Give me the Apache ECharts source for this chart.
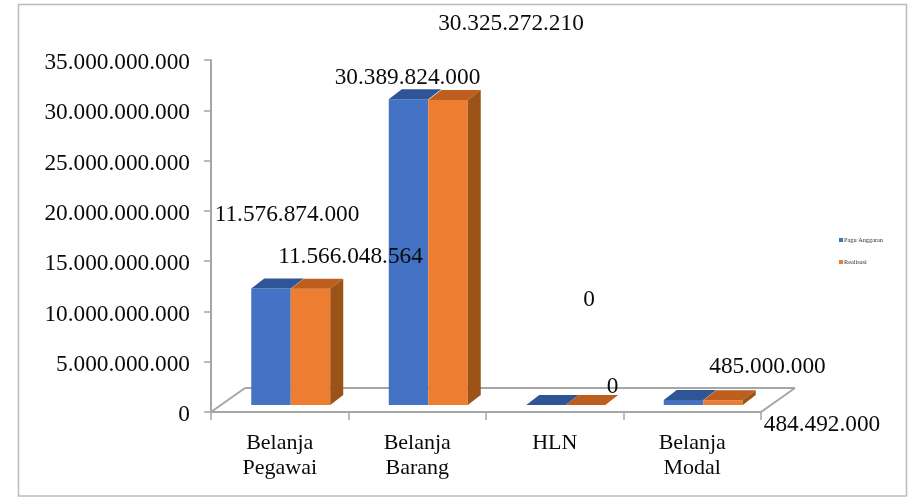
<!DOCTYPE html>
<html>
<head>
<meta charset="utf-8">
<style>html,body{margin:0;padding:0;background:#fff}#c{width:909px;height:497px}</style>
<script src="https://cdn.jsdelivr.net/npm/echarts@6/dist/echarts.min.js"></script>
</head>
<body>
<div id="c"></div>
<script>
const categories = ['Belanja\nPegawai', 'Belanja\nBarang', 'HLN', 'Belanja\nModal'];
const paguAnggaran = [11576874000, 30389824000, 0, 485000000];
const realisasi = [11566048564, 30325272210, 0, 484492000];
const yTicks = { min: 0, max: 35000000000, interval: 5000000000 };
// hand-placed label displacement from each bar's top centre [dx, dy]
const paguLabelShift = [[16, -74], [-1, -21], [43, -105], [84, -33]];
const realLabelShift = [[40, -32], [63, -76], [27, -18], [99, 25]];

const FONT = '"Liberation Serif", serif';
const DEPTH_X = 13, DEPTH_Y = 10, FLOOR_X = 34, FLOOR_Y = 24, BASE_LIFT = 7, SHIFT_X = 11, BAR_W = 39.5;
const fmt = v => String(v).replace(/\B(?=(\d{3})+$)/g, '.');
const poly = (points, fill) => ({ type: 'polygon', shape: { points }, style: { fill } });

function barRenderer(side, colors, shifts) {
  return (params, api) => {
    const i = api.value(0), v = api.value(1);
    const top = api.coord([i, v]), base = api.coord([i, 0]);
    const x0 = top[0] + SHIFT_X + (side < 0 ? -BAR_W : 0), x1 = x0 + BAR_W;
    const yt = top[1] - BASE_LIFT, yb = base[1] - BASE_LIFT;
    const children = [];
    if (yb - yt > 0) children.push(poly([[x0, yt], [x1, yt], [x1, yb], [x0, yb]], colors.front));
    children.push(poly([[x0, yt], [x1, yt], [x1 + DEPTH_X, yt - DEPTH_Y], [x0 + DEPTH_X, yt - DEPTH_Y]], colors.top));
    if (side > 0) children.push(poly([[x1, yt], [x1 + DEPTH_X, yt - DEPTH_Y], [x1 + DEPTH_X, yb - DEPTH_Y], [x1, yb]], colors.side));
    const s = shifts[i];
    children.push({
      type: 'text', z2: 50,
      style: { text: fmt(v), x: (x0 + x1) / 2 + s[0], y: yt + s[1], align: 'center', verticalAlign: 'middle',
        font: '23.3px ' + FONT, fill: '#0a0a0a' }
    });
    return { type: 'group', children };
  };
}

function floorRenderer(params) {
  const g = params.coordSys, L = g.x, R = g.x + g.width, B = g.y + g.height;
  const line = (a, b) => ({ type: 'line', shape: { x1: a[0], y1: a[1], x2: b[0], y2: b[1] },
    style: { stroke: '#a6a6a6', lineWidth: 2 } });
  return { type: 'group', children: [
    line([L, B], [L + FLOOR_X, B - FLOOR_Y]),
    line([L + FLOOR_X, B - FLOOR_Y], [R + FLOOR_X, B - FLOOR_Y]),
    line([R + FLOOR_X, B - FLOOR_Y], [R, B])
  ] };
}

const chart = echarts.init(document.getElementById('c'), null, { renderer: 'canvas' });
chart.setOption({
  animation: false,
  backgroundColor: '#fff',
  graphic: [{ type: 'rect', silent: true, z: -10,
    shape: { x: 18.5, y: 4.5, width: 888, height: 491.5 },
    style: { fill: 'none', stroke: '#bcbcbc', lineWidth: 1.5 } }],
  grid: { left: 211, right: 148, top: 60, bottom: 85, containLabel: false },
  xAxis: {
    type: 'category', data: categories,
    axisLine: { lineStyle: { color: '#a6a6a6', width: 2 } },
    axisTick: { show: true, length: 8, alignWithLabel: false, lineStyle: { color: '#a6a6a6', width: 1.5 } },
    axisLabel: { fontFamily: FONT, fontSize: 22, lineHeight: 25, color: '#0a0a0a', margin: 19, interval: 0 }
  },
  yAxis: {
    type: 'value', min: yTicks.min, max: yTicks.max, interval: yTicks.interval,
    splitLine: { show: false },
    axisLine: { show: true, lineStyle: { color: '#a6a6a6', width: 2 } },
    axisTick: { show: true, length: 7, lineStyle: { color: '#a6a6a6', width: 1.5 } },
    axisLabel: { formatter: fmt, fontFamily: FONT, fontSize: 23.3, color: '#0a0a0a', margin: 21, verticalAlign: 'top', lineHeight: 6 }
  },
  legend: {
    orient: 'vertical', left: 834, top: 232, itemWidth: 4, itemHeight: 4, itemGap: 16,
    icon: 'rect', data: ['Pagu Anggaran', 'Realisasi'],
    textStyle: { fontFamily: FONT, fontSize: 6.3, color: '#333', padding: [0, 0, 0, -4] }
  },
  series: [
    { type: 'custom', name: 'floor', silent: true, z: 1, clip: false, renderItem: floorRenderer,
      data: [[0, 0]], encode: { x: 0, y: 1 } },
    { type: 'custom', name: 'Pagu Anggaran', z: 2, clip: false,
      itemStyle: { color: '#4472c4' },
      renderItem: barRenderer(-1, { front: '#4472c4', top: '#2f5597' }, paguLabelShift),
      data: paguAnggaran.map((v, i) => [i, v]), encode: { x: 0, y: 1 } },
    { type: 'custom', name: 'Realisasi', z: 3, clip: false,
      itemStyle: { color: '#ed7d31' },
      renderItem: barRenderer(1, { front: '#ed7d31', top: '#bd5e1f', side: '#9c5318' }, realLabelShift),
      data: realisasi.map((v, i) => [i, v]), encode: { x: 0, y: 1 } }
  ]
});
</script>
</body>
</html>
